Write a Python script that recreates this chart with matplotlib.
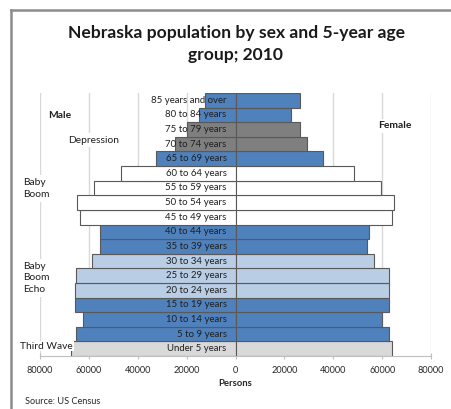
import matplotlib
matplotlib.use('Agg')
import matplotlib.pyplot as plt
from matplotlib.lines import Line2D
import numpy as np

plt.rcParams['font.family'] = ['Lato', 'DejaVu Sans']

# age groups, bottom to top
age_groups = ['Under 5 years', '5 to 9 years', '10 to 14 years', '15 to 19 years',
              '20 to 24 years', '25 to 29 years', '30 to 34 years', '35 to 39 years',
              '40 to 44 years', '45 to 49 years', '50 to 54 years', '55 to 59 years',
              '60 to 64 years', '65 to 69 years', '70 to 74 years', '75 to 79 years',
              '80 to 84 years', '85 years and over']
male = [67200, 65300, 62200, 65600, 65800, 65300, 58600, 55500, 55400,
        63700, 64900, 57800, 46900, 32600, 24900, 20000, 15100, 12600]
female = [64200, 62900, 60000, 62700, 62700, 63000, 56700, 54000, 54600,
          64200, 64900, 59700, 48300, 35800, 29200, 26200, 22700, 26500]
# generation of each row
groups = ['third', 'blue', 'blue', 'blue', 'echo', 'echo', 'echo', 'blue', 'blue',
          'boom', 'boom', 'boom', 'boom', 'blue', 'dep', 'dep', 'blue', 'blue']
group_colors = {'blue': '#4F81BD', 'echo': '#B9CDE5', 'boom': '#FFFFFF',
                'dep': '#7F7F7F', 'third': '#D9D9D9'}
xticks = [-80000, -60000, -40000, -20000, 0, 20000, 40000, 60000, 80000]

fig = plt.figure(figsize=(4.51, 4.09), dpi=100)
ax = fig.add_axes([40/451, 1 - 356/409, 391/451, 263/409])

y = np.arange(len(age_groups))
colors = [group_colors[g] for g in groups]
ax.barh(y, -np.array(male), height=1.0, color=colors, edgecolor='#595959',
        linewidth=0.8, zorder=2)
ax.barh(y, female, height=1.0, color=colors, edgecolor='#595959',
        linewidth=0.8, zorder=2)

for yi, lab in zip(y, age_groups):
    ax.text(-3600, yi, lab, ha='right', va='center', fontsize=6.9,
            color='#1f1f1f', zorder=3)

ax.set_xlim(-80000, 80000)
ax.set_ylim(-0.5, len(age_groups) - 0.5)
ax.set_xticks(xticks)
ax.set_xticklabels([str(abs(v)) for v in xticks], fontsize=6.6, color='#262626')
ax.set_yticks([])
for v in xticks:
    ax.axvline(v, color='#D9D9D9', linewidth=1, zorder=0)
for s in ['top', 'right', 'left']:
    ax.spines[s].set_visible(False)
ax.spines['bottom'].set_color('#BFBFBF')
ax.tick_params(axis='x', direction='inout', length=4, color='#BFBFBF', pad=5)
ax.set_xlabel('Persons', fontsize=6.8, fontweight='bold', color='#262626', labelpad=3)

# side notes
box = dict(facecolor='white', edgecolor='none', pad=2)
ax.text(0.051, 0.913, 'Male', transform=ax.transAxes, ha='center', va='center',
        fontsize=7.4, fontweight='bold', color='#1f1f1f', bbox=box, zorder=4)
ax.text(0.907, 0.875, 'Female', transform=ax.transAxes, ha='center', va='center',
        fontsize=7.4, fontweight='bold', color='#1f1f1f', bbox=box, zorder=4)
ax.text(0.138, 0.821, 'Depression', transform=ax.transAxes, ha='center', va='center',
        fontsize=7.4, color='#1f1f1f', bbox=box, zorder=4)
ax.text(-0.043, 0.637, 'Baby\nBoom', transform=ax.transAxes, ha='left', va='center',
        fontsize=7.4, color='#1f1f1f', linespacing=1.4, bbox=box, zorder=4)
ax.text(-0.043, 0.297, 'Baby\nBoom\nEcho', transform=ax.transAxes, ha='left', va='center',
        fontsize=7.4, color='#1f1f1f', linespacing=1.4, bbox=box, zorder=4)
ax.text(-0.051, 0.038, 'Third Wave', transform=ax.transAxes, ha='left', va='center',
        fontsize=7.4, color='#1f1f1f', bbox=dict(facecolor='white', edgecolor='none', pad=0.5),
        zorder=4)

fig.text(236/451, 1 - 44/409, 'Nebraska population by sex and 5-year age\ngroup; 2010',
         ha='center', va='center', fontsize=12.6, fontweight='bold', color='#1a1a1a',
         linespacing=1.45)
fig.text(25/451, 1 - 401/409, 'Source: US Census', ha='left', va='center',
         fontsize=6.6, color='#262626')

# chart border (top and left edges visible)
fig.add_artist(Line2D([11/451, 1], [1 - 10/409, 1 - 10/409], color='#8C8C8C', linewidth=1.8))
fig.add_artist(Line2D([11/451, 11/451], [0, 1 - 10/409], color='#8C8C8C', linewidth=1.8))

fig.savefig('out.png', dpi=100)
